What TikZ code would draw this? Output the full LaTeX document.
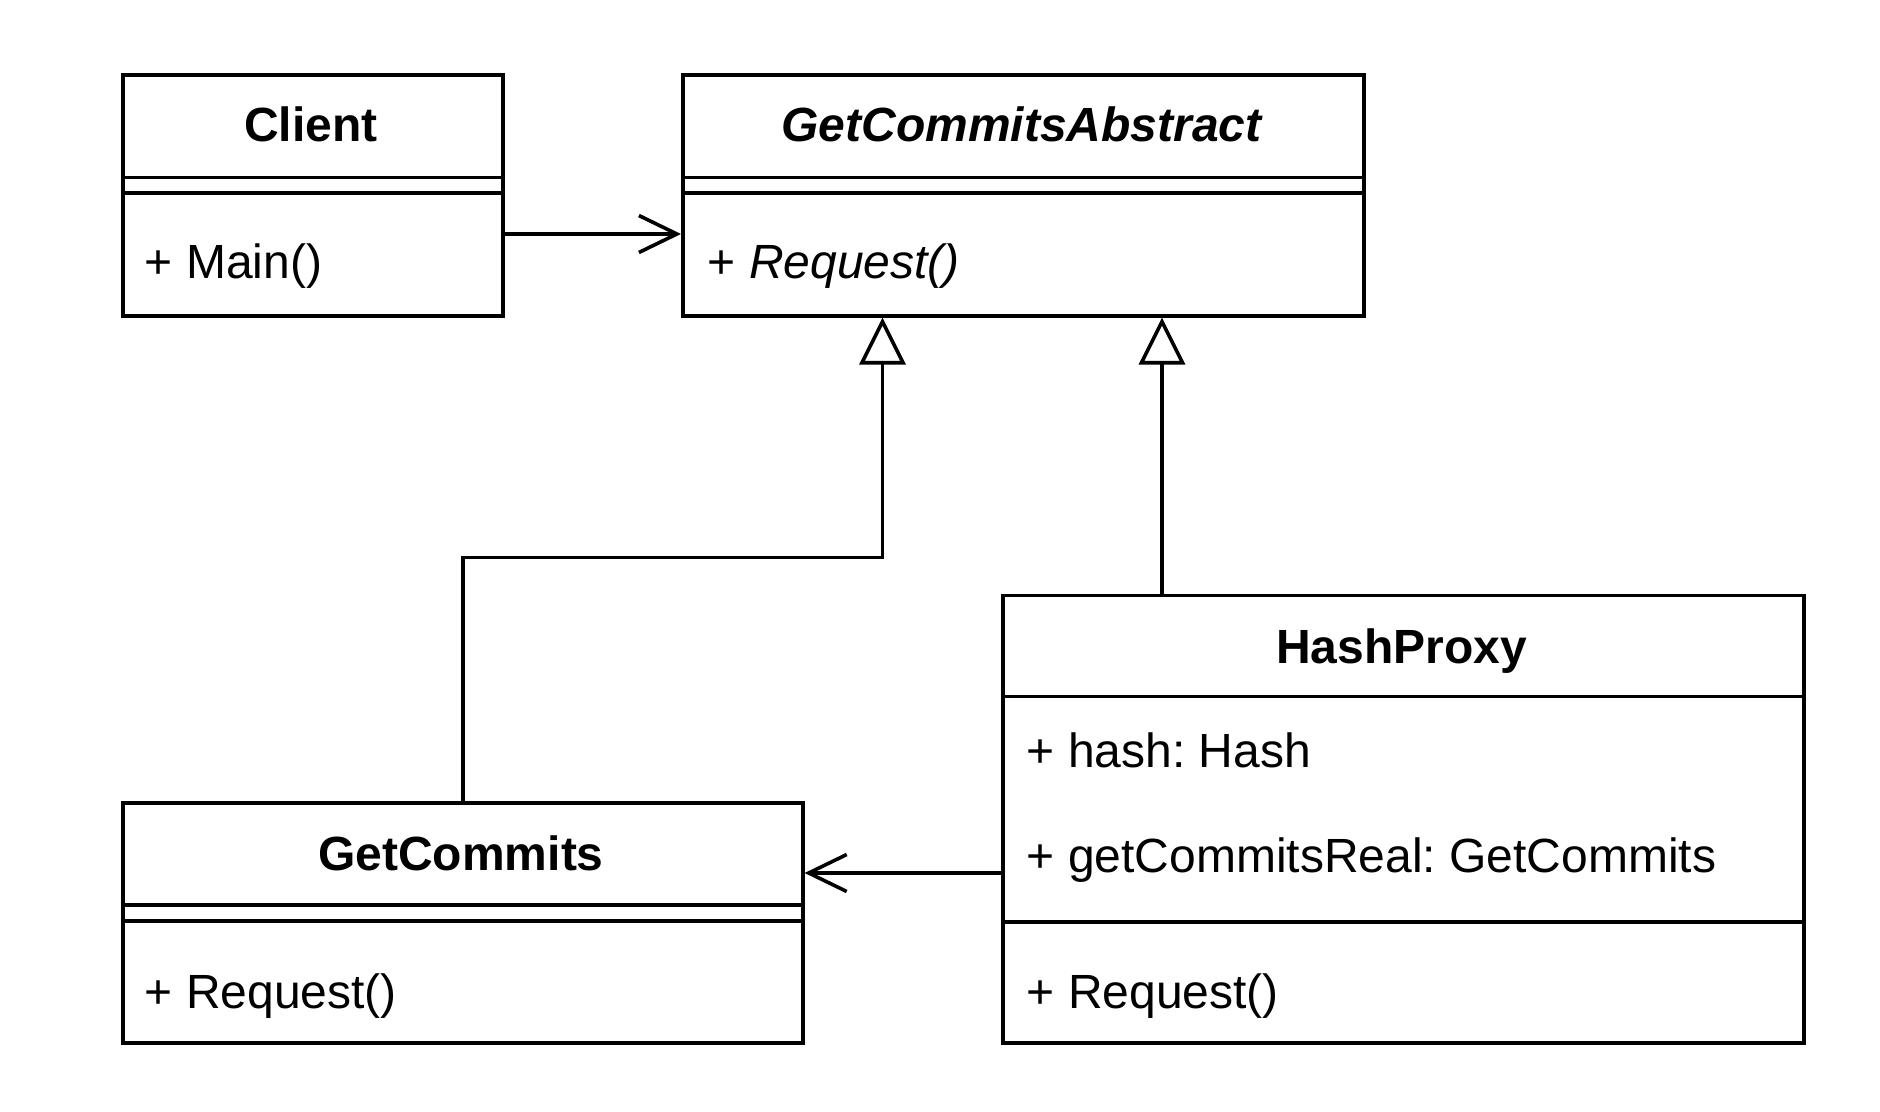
\documentclass[tikz,border=0pt]{standalone}
\usepackage{fontspec}
\setmainfont{Liberation Sans}
\usetikzlibrary{arrows.meta,calc}
\frenchspacing
\begin{document}
\begin{tikzpicture}[x=0.5pt,y=-0.5pt,
  line width=1.8pt,
  every node/.style={font=\fontsize{24}{28}\selectfont},
  cls/.style={draw, line width=1.8pt, rectangle, inner sep=0pt, anchor=north west},
  ttl/.style={inner sep=0pt, anchor=base, font=\fontsize{24}{28}\selectfont\bfseries},
  mem/.style={inner sep=0pt, anchor=base west},
  assoc/.style={-{Straight Barb[length=19pt,width=18.5pt,line width=1.8pt]}},
  inherit/.style={-{Triangle[open,length=23.5pt,width=23pt,line width=1.8pt]}}
]
\useasboundingbox (0,0) rectangle (1880,1112);
% Client
\node[cls, minimum width=190pt, minimum height=120.5pt] (client) at (121,73) {};
\draw (121,177.5) -- (501,177.5) (121,193) -- (501,193);
\node[ttl] (clientT) at (311,142) {Client};
\node[mem] (clientM) at (143,279) {+ Main()};
% GetCommitsAbstract
\node[cls, minimum width=340.5pt, minimum height=120.5pt] (gca) at (681,73) {};
\draw (681,177.5) -- (1362,177.5) (681,193) -- (1362,193);
\node[ttl, font=\fontsize{24}{28}\selectfont\bfseries\itshape] (gcaT) at (1021.5,142) {GetCommitsAbstract};
\node[mem] (gcaM) at (706,279) {+ \textit{Request()}};
% GetCommits
\node[cls, minimum width=340pt, minimum height=120pt] (gc) at (121,801) {};
\draw (121,905) -- (801,905) (121,921) -- (801,921);
\node[ttl] (gcT) at (461,870) {GetCommits};
\node[mem] (gcM) at (143,1008) {+ Request()};
% HashProxy
\node[cls, minimum width=400.5pt, minimum height=223.75pt] (hp) at (1001,593.5) {};
\draw (1001,696.6) -- (1802,696.6) (1001,922) -- (1802,922);
\node[ttl] (hpT) at (1401.5,663) {HashProxy};
\node[mem] (hpA1) at (1025,767.5) {+ hash: Hash};
\node[mem] (hpA2) at (1025,872) {+ getCommitsReal: GetCommits};
\node[mem] (hpM) at (1025,1008) {+ Request()};
% connectors
\draw[assoc] (client.east |- 0,234) -- (gca.west |- 0,234);
\draw[assoc] (hp.west |- 0,873) -- (gc.east |- 0,873);
\draw[inherit] (gc.north) |- (882.5,557.5) -- (gca.south -| 882.5,0);
\draw[inherit] (hp.north -| 1162,0) -- (gca.south -| 1162,0);
\end{tikzpicture}
\end{document}
